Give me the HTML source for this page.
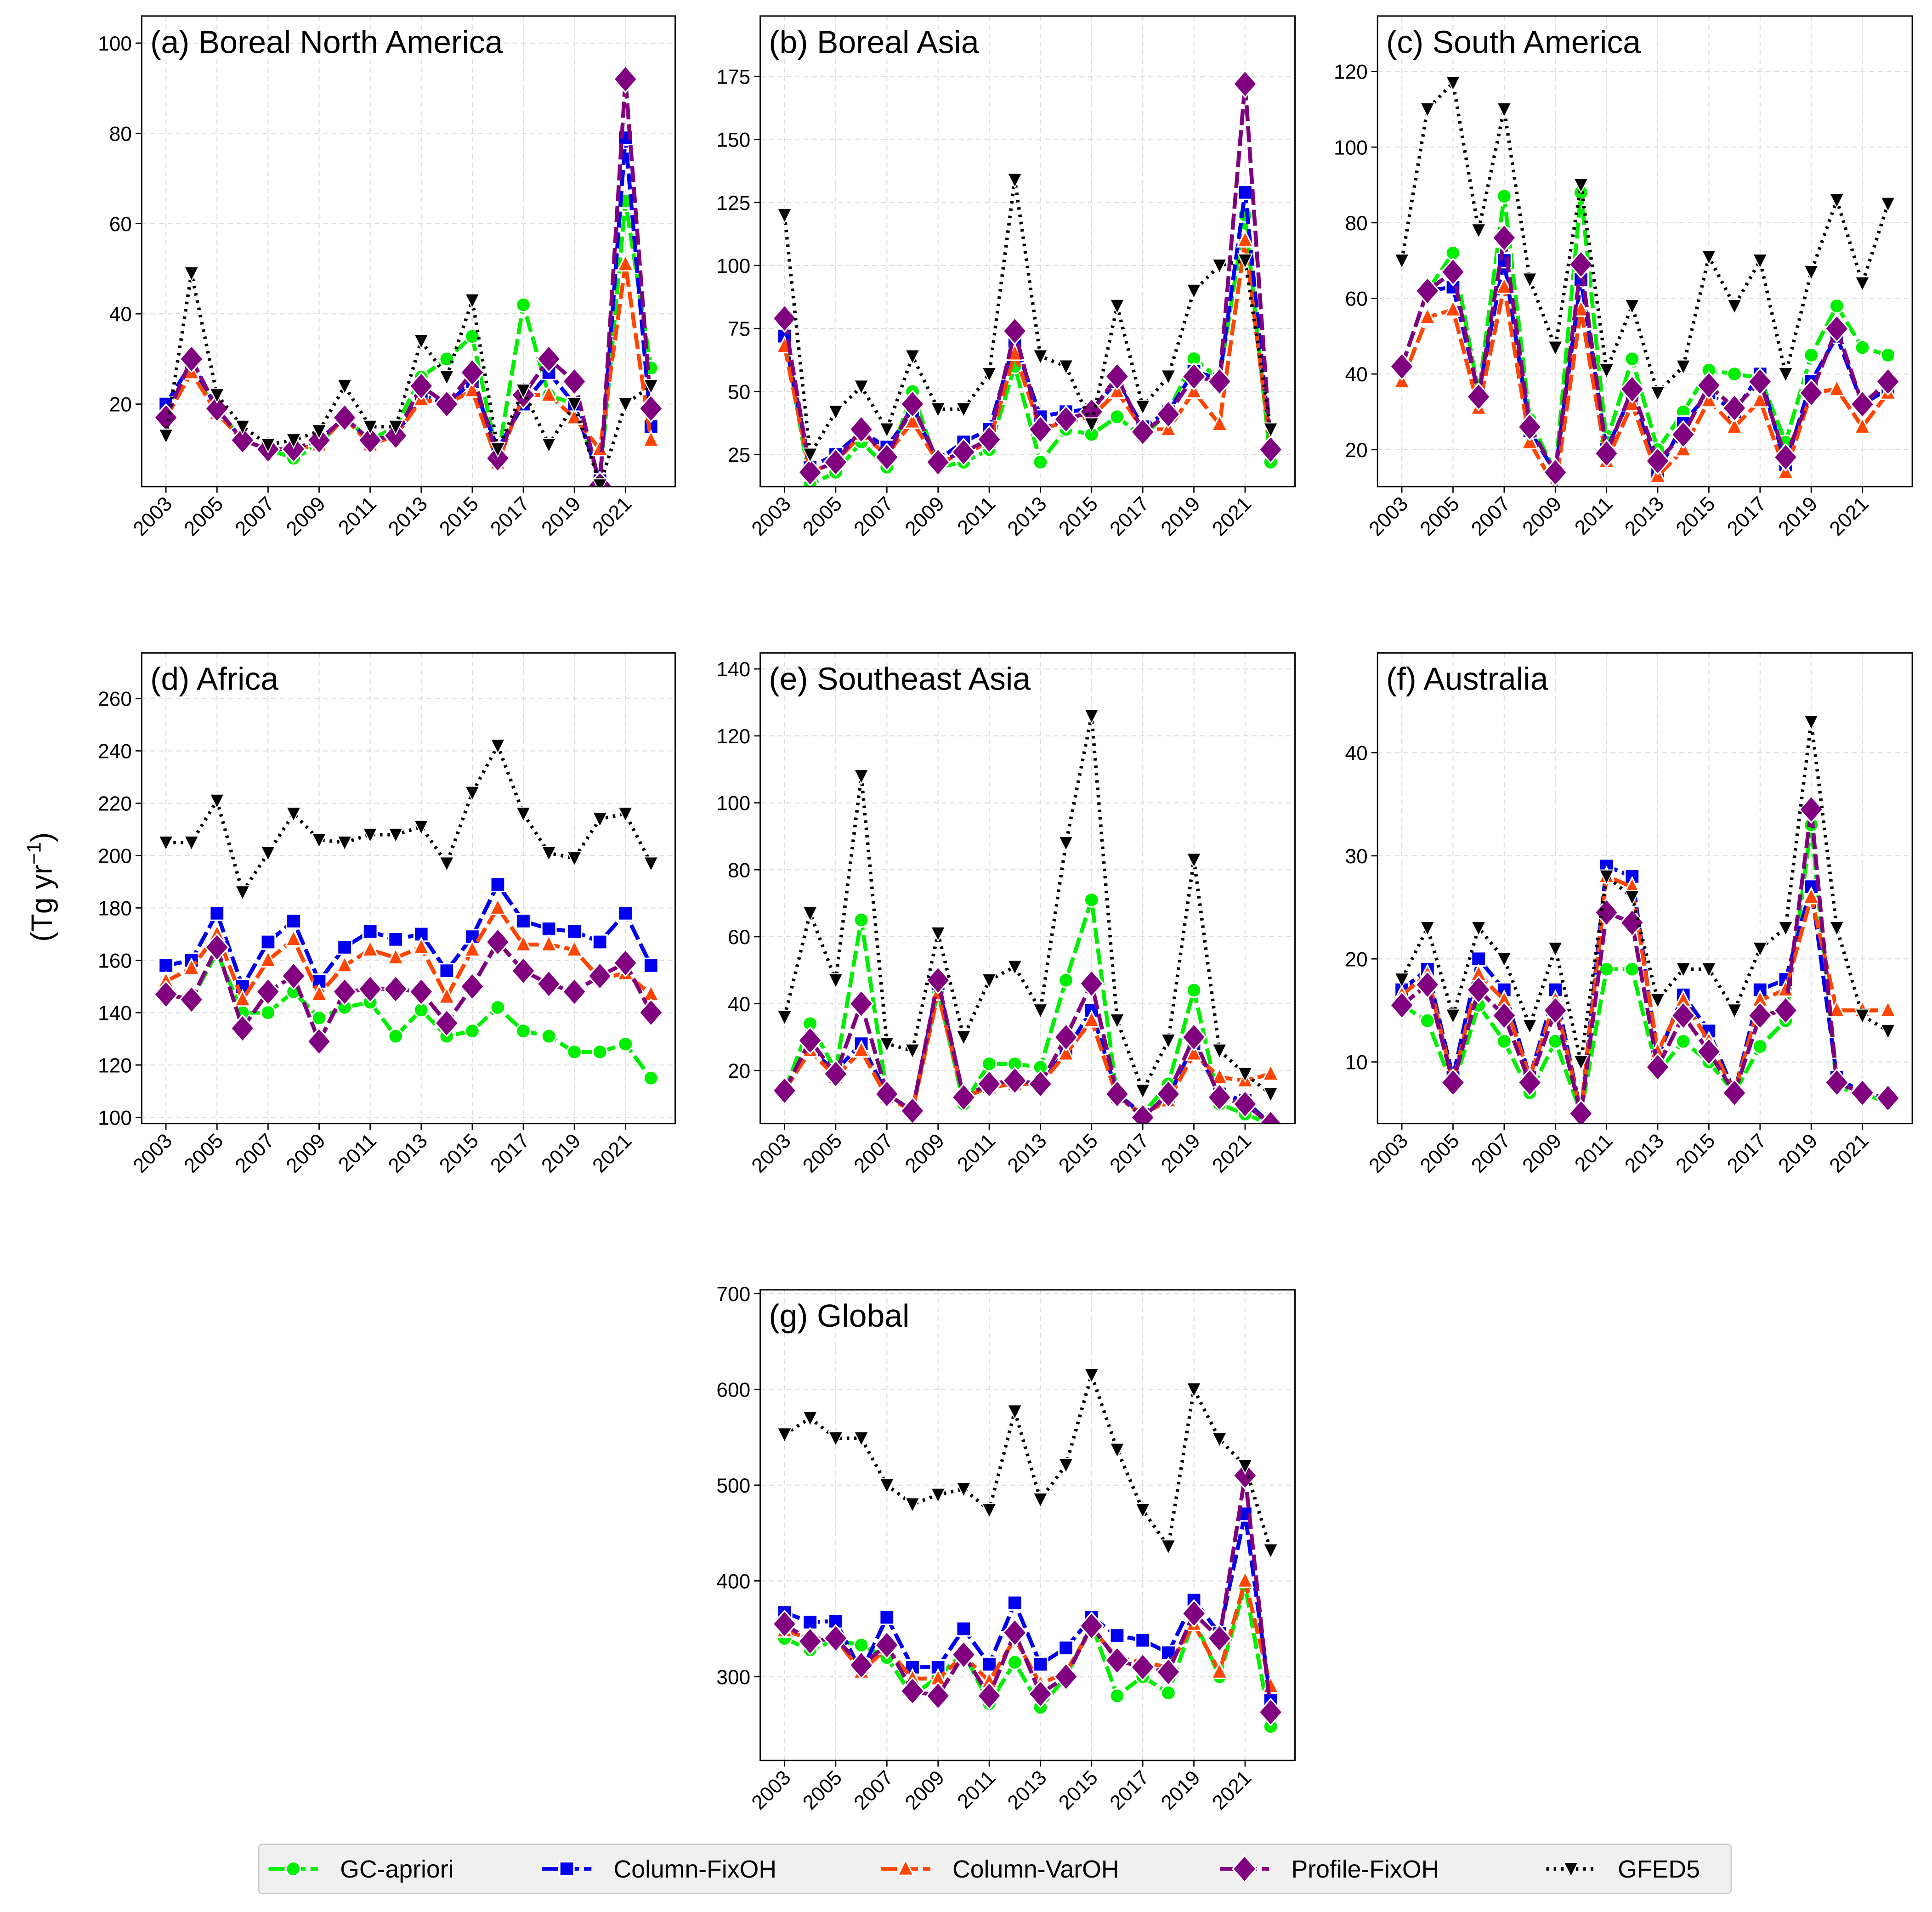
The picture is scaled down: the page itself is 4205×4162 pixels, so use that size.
<!DOCTYPE html>
<html><head><meta charset="utf-8">
<style>
html,body{margin:0;padding:0;background:#fff;}
svg{display:block;font-family:"Liberation Sans","DejaVu Sans",sans-serif;}
</style></head>
<body>
<svg id="fig" xmlns="http://www.w3.org/2000/svg" width="4205" height="4162" viewBox="0 0 1568 1552" preserveAspectRatio="none">
<rect x="0" y="0" width="1568" height="1552" fill="#fff"/>
<text x="0" y="0" font-size="24" text-anchor="middle" transform="translate(42,720) rotate(-90)">(Tg yr<tspan baseline-shift="super" font-size="16">−1</tspan>)</text>
<g id="legend"></g>
</svg>
<script>
const years = [2003,2004,2005,2006,2007,2008,2009,2010,2011,2012,2013,2014,2015,2016,2017,2018,2019,2020,2021,2022];
const xTickLabels = ["2003","2005","2007","2009","2011","2013","2015","2017","2019","2021"];
const seriesNames = ["GC-apriori","Column-FixOH","Column-VarOH","Profile-FixOH","GFED5"];

const bnaGC   = [17,27,19,12,10,8,11,17,12,15,26,30,35,8,42,22,20,3,65,28];
const bnaFix  = [20,29,19,12,10,10,12,17,12,13,22,20,25,10,20,27,20,3,79,15];
const bnaVar  = [17,27,18,12,10,10,11,17,11,13,21,20,23,7,22,22,17,10,51,12];
const bnaProf = [17,30,19,12,10,10,12,17,12,13,24,20,27,8,22,30,25,2,92,19];
const bnaGFED = [13,49,22,15,11,12,14,24,15,15,34,26,43,10,23,11,20,2,20,24];

const basGC   = [73,13,18,30,20,50,20,22,27,60,22,35,33,40,32,42,63,55,120,22];
const basFix  = [72,20,25,34,28,42,23,30,35,70,40,42,43,54,36,42,58,55,129,27];
const basVar  = [68,18,22,33,25,38,22,25,30,65,35,38,40,50,35,35,50,37,110,27];
const basProf = [79,18,22,35,24,45,22,26,31,74,35,39,42,56,34,41,56,54,172,27];
const basGFED = [120,25,42,52,35,64,43,43,57,134,64,60,37,84,44,56,90,100,102,35];

const saGC   = [42,62,72,35,87,28,14,88,22,44,20,30,41,40,39,22,45,58,47,45];
const saFix  = [42,62,63,35,70,25,14,65,20,35,14,27,35,30,40,16,38,50,32,36];
const saVar  = [38,55,57,31,63,22,10,57,17,32,13,20,33,26,33,14,35,36,26,35];
const saProf = [42,62,67,34,76,26,14,69,19,36,17,24,37,31,38,18,35,52,32,38];
const saGFED = [70,110,117,78,110,65,47,90,41,58,35,42,71,58,70,40,67,86,64,85];

const afGC   = [147,145,163,140,140,148,138,142,144,131,141,131,133,142,133,131,125,125,128,115];
const afFix  = [158,160,178,150,167,175,152,165,171,168,170,156,169,189,175,172,171,167,178,158];
const afVar  = [152,157,170,145,160,168,147,158,164,161,165,146,164,180,166,166,164,153,155,147];
const afProf = [147,145,165,134,148,154,129,148,149,149,148,136,150,167,156,151,148,154,159,140];
const afGFED = [205,205,221,186,201,216,206,205,208,208,211,197,224,242,216,201,199,214,216,197];

const seaGC   = [14,34,20,65,13,8,44,10,22,22,21,47,71,12,7,16,44,10,7,4];
const seaFix  = [14,26,20,28,13,8,46,12,15,17,16,26,38,13,7,12,28,13,11,4];
const seaVar  = [14,26,18,26,12,8,43,12,15,16,16,25,35,12,7,11,25,18,17,19];
const seaProf = [14,29,19,40,13,8,47,12,16,17,16,30,46,13,6,13,30,12,10,4];
const seaGFED = [36,67,47,108,28,26,61,30,47,51,38,88,126,35,14,29,83,26,19,13];

const ausGC   = [15.5,14,7.5,15.5,12,7,12,5,19,19,9,12,10,7,11.5,14,33,7.5,7,6];
const ausFix  = [17,19,8.5,20,17,8.5,17,5,29,28,10.5,16.5,13,7,17,18,27,8.5,7,6.5];
const ausVar  = [16.5,18.5,8,18.5,16,8.5,16,5,28,27,11,16,12,7,16,17,26,15,15,15];
const ausProf = [15.5,17.5,8,17,14.5,8,15,5,24.5,23.5,9.5,14.5,11,7,14.5,15,34.5,8,7,6.5];
const ausGFED = [18,23,14.5,23,20,13.5,21,10,28,26,16,19,19,15,21,23,43,23,14.5,13];

const glGC   = [340,328,338,333,320,280,300,325,272,315,268,300,355,280,300,283,360,300,395,248];
const glFix  = [367,357,358,305,362,310,310,350,313,377,313,330,362,343,338,325,380,345,470,275];
const glVar  = [348,340,340,305,330,298,298,322,295,340,292,305,350,320,315,310,355,305,400,290];
const glProf = [355,337,340,312,333,285,280,323,280,346,282,300,353,317,310,305,366,340,510,263];
const glGFED = [553,570,549,549,500,480,490,496,474,577,485,521,615,537,474,436,600,548,520,432];

const ticksA = [20,40,60,80,100];
const ticksB = [25,50,75,100,125,150,175];
const ticksC = [20,40,60,80,100,120];
const ticksD = [100,120,140,160,180,200,220,240,260];
const ticksE = [20,40,60,80,100,120,140];
const ticksF = [10,20,30,40];
const ticksG = [300,400,500,600,700];

const NS = "http://www.w3.org/2000/svg";
const svg = document.getElementById("fig");
function mk(tag, attrs, parent){
  const e = document.createElementNS(NS, tag);
  for (const k in attrs) e.setAttribute(k, attrs[k]);
  (parent||svg).appendChild(e);
  return e;
}
const colors = ["#00ee00","#0000ee","#ff4500","#800080","#000000"];
const dashes = ["13,4","13,4","13,4","13,4","2,4"];
const markers = ["circle","square","tri-up","diamond","tri-down"];

function marker(g, type, x, y, color, big){
  const s = big ? 1.35 : 1.05;
  let e;
  if (type === "circle") e = mk("circle",{cx:x,cy:y,r:5.5*s},g);
  else if (type === "square") e = mk("rect",{x:x-5.5*s,y:y-5.5*s,width:11*s,height:11*s},g);
  else if (type === "tri-up") e = mk("polygon",{points:`${x},${y-7*s} ${x-6*s},${y+5*s} ${x+6*s},${y+5*s}`},g);
  else if (type === "diamond") e = mk("polygon",{points:`${x},${y-8*s} ${x-7*s},${y} ${x},${y+8*s} ${x+7*s},${y}`},g);
  else e = mk("polygon",{points:`${x},${y+6*s} ${x-5.5*s},${y-5*s} ${x+5.5*s},${y-5*s}`},g);
  e.setAttribute("fill", color);
  e.setAttribute("stroke", "#fff");
  e.setAttribute("stroke-width", type === "tri-down" ? 0.8 : 1.2);
  return e;
}

function panel(id, title, L, T, W, H, tickVals, tickPix, series){
  const g = mk("g",{});
  
  
  const v0 = tickVals[0], v1 = tickVals[tickVals.length-1];
  const p0 = tickPix[0], p1 = tickPix[1];
  const yS = v => p0 + (v - v0) * (p1 - p0) / (v1 - v0);
  const step = W / 20.9;
  const xS = yr => L + step*0.95 + (yr - years[0]) * step;
  for (let i = 0; i < years.length; i += 2) {
    const x = xS(years[i]);
    const gl = mk("line",{x1:x,y1:T,x2:x,y2:T+H,stroke:"#dddddd","stroke-width":0.8,"stroke-dasharray":"4,3"},g);
    
    
  }
  tickVals.forEach(v => {
    const y = yS(v);
    if (y < T || y > T+H) return;
    const gl = mk("line",{x1:L,y1:y,x2:L+W,y2:y,stroke:"#dddddd","stroke-width":0.8,"stroke-dasharray":"4,3"},g);
    
    
    mk("line",{x1:L-5,y1:y,x2:L,y2:y,stroke:"#000","stroke-width":1},g);
    const t = mk("text",{x:L-8,y:y+6,"font-size":16.5,"text-anchor":"end"},g);
    t.textContent = v;
    
    
  });
  xTickLabels.forEach(lbl => {
    const x = xS(+lbl);
    mk("line",{x1:x,y1:T+H,x2:x,y2:T+H+5,stroke:"#000","stroke-width":1},g);
    const t = mk("text",{x:0,y:0,"font-size":16.5,"text-anchor":"end",transform:`translate(${x+6},${T+H+15}) rotate(-45)`},g);
    t.textContent = lbl;
    
    
  });
  const cp = mk("clipPath",{id:"clip-"+id},g);
  mk("rect",{x:L,y:T,width:W,height:H},cp);
  const sg = mk("g",{"clip-path":`url(#clip-${id})`},g);
  series.forEach((vals, si) => {
    const pts = vals.map((v,i) => xS(years[i]) + "," + yS(v)).join(" ");
    const pl = mk("polyline",{points:pts,fill:"none",stroke:colors[si],"stroke-width":si===4?2.8:3.2,"stroke-dasharray":dashes[si],"stroke-linejoin":"round"},sg);
    
    
    vals.forEach((v,i) => {
      const m = marker(sg, markers[si], xS(years[i]), yS(v), colors[si], si===3);
      
      
    });
  });
  const fr = mk("rect",{x:L,y:T,width:W,height:H,fill:"none",stroke:"#000","stroke-width":1.1},g);
  
  
  const tt = mk("text",{x:L+7,y:T+30,"font-size":26},g);
  tt.textContent = title;
  
  
}

panel("a","(a) Boreal North America",115,13,433,382,ticksA,[328,35],[bnaGC,bnaFix,bnaVar,bnaProf,bnaGFED]);
panel("b","(b) Boreal Asia",617,13,434,382,ticksB,[369,62],[basGC,basFix,basVar,basProf,basGFED]);
panel("c","(c) South America",1118,13,434,382,ticksC,[365,58],[saGC,saFix,saVar,saProf,saGFED]);
panel("d","(d) Africa",115,530,433,382,ticksD,[907,567],[afGC,afFix,afVar,afProf,afGFED]);
panel("e","(e) Southeast Asia",617,530,434,382,ticksE,[869,543],[seaGC,seaFix,seaVar,seaProf,seaGFED]);
panel("f","(f)  Australia",1118,530,434,382,ticksF,[862,611],[ausGC,ausFix,ausVar,ausProf,ausGFED]);
panel("g","(g) Global",617,1047,434,382,ticksG,[1361,1050],[glGC,glFix,glVar,glProf,glGFED]);

const lg = document.getElementById("legend");
mk("rect",{x:210,y:1497,width:1195,height:40,rx:3,fill:"#f0f0f0",stroke:"#cccccc","stroke-width":1},lg);
const lx = [218,440,715,990,1255];
seriesNames.forEach((n, i) => {
  const eg = mk("g",{},lg);
  
  
  mk("line",{x1:lx[i],y1:1517,x2:lx[i]+40,y2:1517,stroke:colors[i],"stroke-width":3,"stroke-dasharray":dashes[i]},eg);
  marker(eg, markers[i], lx[i]+20, 1517, colors[i], i===3);
  const t = mk("text",{x:lx[i]+58,y:1524,"font-size":20},eg);
  t.textContent = n;
});
</script>
</body></html>
